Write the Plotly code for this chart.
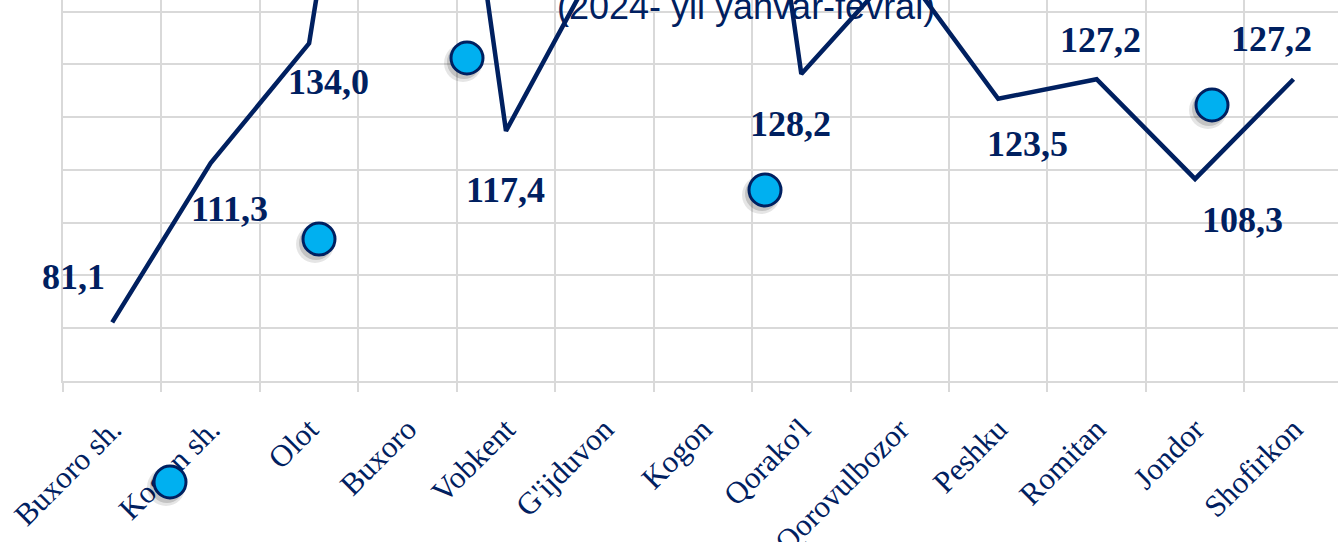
import plotly.graph_objects as go

# ---- data ----
categories = ["Buxoro sh.", "Kogon sh.", "Olot", "Buxoro", "Vobkent", "G'ijduvon", "Kogon",
              "Qorako'l", "Qorovulbozor", "Peshku", "Romitan", "Jondor", "Shofirkon"]
values = [81.1, 111.3, 134.0, 250.0, 117.4, 151.8, 259.0, 128.2, 148.8, 123.5, 127.2, 108.3, 127.2]
title_text = "(2024- yil yanvar-fevral)"

# ---- label placement (pixel offsets from each point) ----
label_dx = [-39, 19, 19, 0, 0, 0, 0, -11, 0, 29, 4, 47, -22]
label_dy = [45, -46, -39, 40, -59, 40, 40, -50, 40, -45, 39, -41, 40]

# ---- decorative dots (pixel positions in the picture) ----
dot_px = [(170, 482), (319, 239), (467, 58), (765, 190), (1212, 105)]

W, H = 1338, 542
ML, MR, MT, MB = 63, 0, 0, 161
PW, PH = W - ML - MR, H - MT - MB

NAVY = "#002060"
GRID = "#d9d9d9"

fig = go.Figure()
fig.add_trace(go.Scatter(
    x=categories, y=values, mode="lines",
    line=dict(color=NAVY, width=4.5),
    hoverinfo="skip", showlegend=False,
))

for c, v, dx, dy in zip(categories, values, label_dx, label_dy):
    fig.add_annotation(
        x=c, y=v, xref="x", yref="y",
        text=f"{v:.1f}".replace(".", ","),
        showarrow=False, xshift=dx, yshift=dy,
        font=dict(family="Liberation Serif", size=36, color=NAVY, weight="bold"),
    )

fig.add_annotation(
    x=(746 - ML) / PW, y=1, xref="paper", yref="paper",
    xanchor="center", yanchor="top", yshift=16,
    text=title_text, showarrow=False,
    font=dict(family="Liberation Sans", size=36, color=NAVY),
)

shapes = []
for (px, py) in dot_px:
    xp = (px - ML) / PW
    yp = (MT + PH - py) / PH
    for r, off, op in [(19, (-4, -5), 0.10), (17, (-3, -4), 0.15)]:
        shapes.append(dict(
            type="circle", xref="paper", yref="paper",
            xsizemode="pixel", ysizemode="pixel", xanchor=xp, yanchor=yp,
            x0=off[0] - r, x1=off[0] + r, y0=off[1] - r, y1=off[1] + r,
            fillcolor=f"rgba(0,0,0,{op})", line=dict(width=0), layer="above",
        ))
    shapes.append(dict(
        type="circle", xref="paper", yref="paper",
        xsizemode="pixel", ysizemode="pixel", xanchor=xp, yanchor=yp,
        x0=-16, x1=16, y0=-16, y1=16,
        fillcolor="#00b0f0", line=dict(color=NAVY, width=3), layer="above",
    ))

fig.update_layout(
    width=W, height=H,
    margin=dict(l=ML, r=MR, t=MT, b=MB, autoexpand=False),
    paper_bgcolor="white", plot_bgcolor="white",
    shapes=shapes,
    showlegend=False,
)
fig.update_xaxes(
    type="category", range=[-0.5, 12.452], automargin=False,
    tickson="boundaries", ticks="outside", ticklen=9, tickcolor=GRID, tickwidth=1.5,
    showgrid=True, gridcolor=GRID, gridwidth=1.5,
    showline=True, linecolor=GRID, linewidth=1.5,
    tickangle=-45, ticklabelstandoff=16,
    tickfont=dict(family="Liberation Serif", size=31, color=NAVY),
)
fig.update_yaxes(
    range=[70, 70 + PH / 5.276], dtick=10, tick0=70, automargin=False,
    showgrid=True, gridcolor=GRID, gridwidth=1.5,
    showticklabels=False, zeroline=False,
    showline=True, linecolor=GRID, linewidth=1.5,
)

fig.write_html(
    "out.html",
    config={"displayModeBar": False},
    post_script="document.body.style.margin='0';document.body.style.padding='0';",
)
